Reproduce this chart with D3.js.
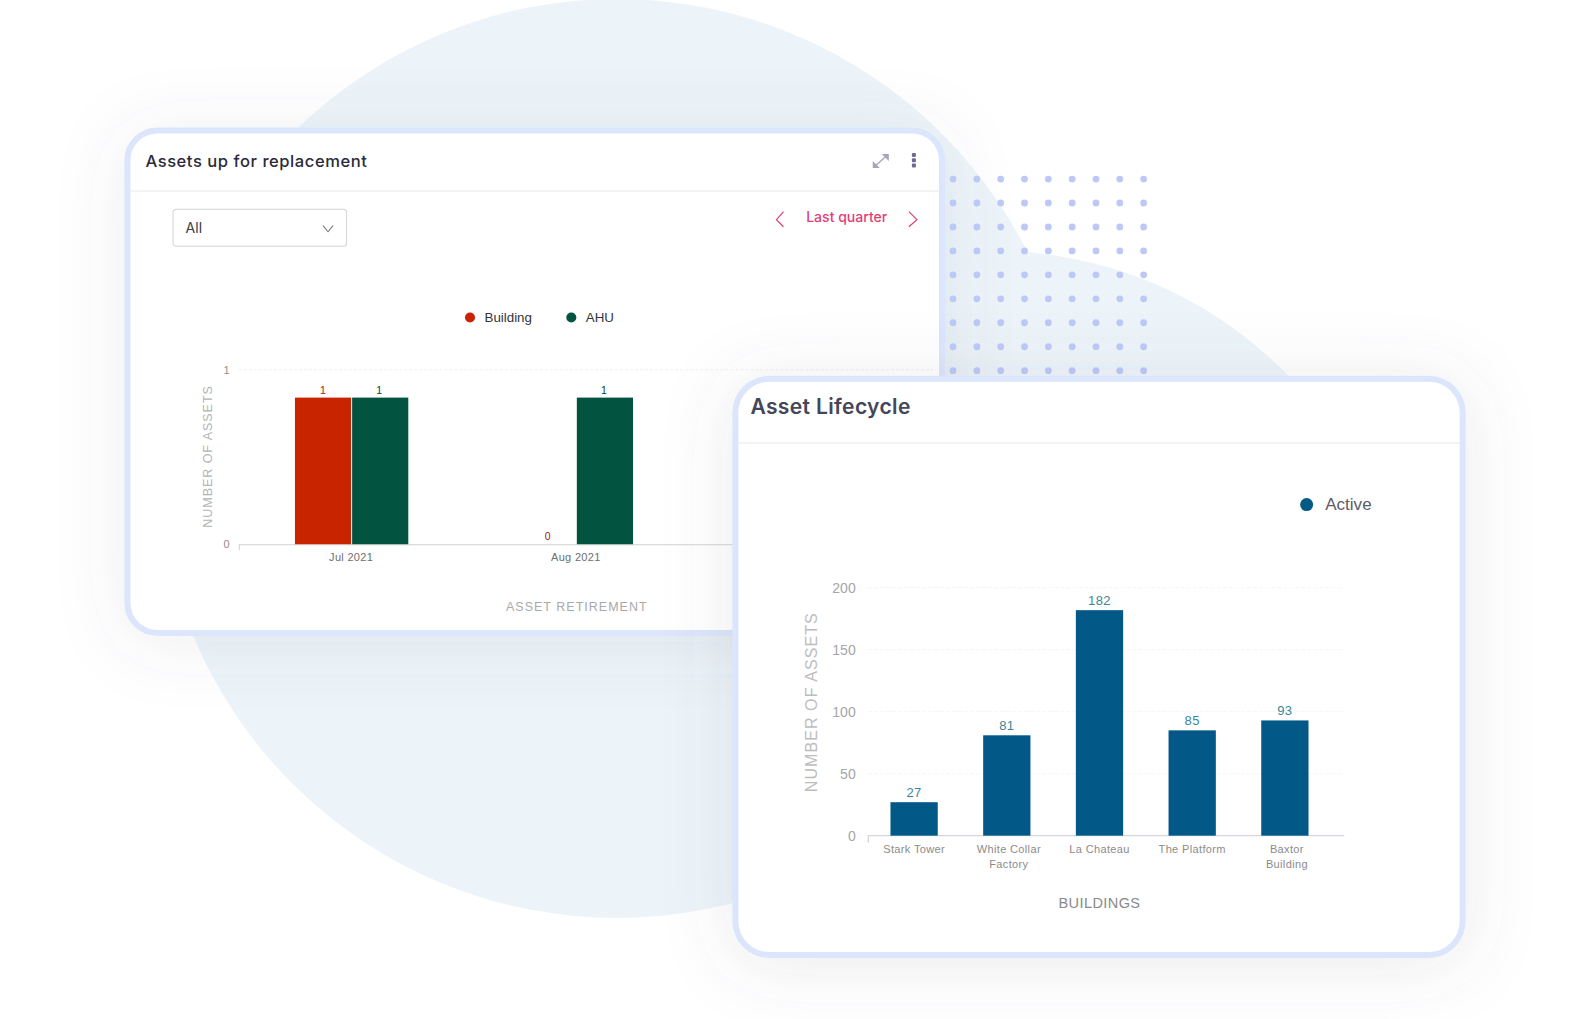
<!DOCTYPE html>
<html>
<head>
<meta charset="utf-8">
<title>Asset charts</title>
<script src="https://cdn.jsdelivr.net/npm/d3@7"></script>
<style>
  html, body { margin: 0; background: #fff; }
  svg { display: block; }
  text { font-family: "Liberation Sans", Arial, sans-serif; }
  .ui { font-family: Inter, "Noto Sans", sans-serif; }
</style>
</head>
<body>
<div id="chart"></div>
<script>
// --- Data : Assets up for replacement ---
const months = ["Jul 2021", "Aug 2021", "Sep 2021"];
const seriesNames = ["Building", "AHU"];
const seriesColors = ["#c92400", "#025441"];
const buildingCounts = [1, 0, 0];
const ahuCounts = [1, 1, 0];
const retirementTicks = [0, 1];
// the bars stop short of the "1" tick in the picture
const countToAxis = 0.84;

// --- Data : Asset Lifecycle ---
const buildings = ["Stark Tower", "White Collar Factory", "La Chateau", "The Platform", "Baxtor Building"];
const activeCounts = [27, 81, 182, 85, 93];
const lifecycleTicks = [0, 50, 100, 150, 200];

const width = 1573;
const height = 1019;

// layout below is measured on a 1568 wide copy of the design
const svg = d3.select("#chart").append("svg")
  .attr("width", width)
  .attr("height", height)
  .attr("viewBox", `0 0 1568 ${(height * 1568) / width}`);

const defs = svg.append("defs");

function shadow(id, blur, opacity) {
  const f = defs.append("filter").attr("id", id)
    .attr("x", "-30%").attr("y", "-30%").attr("width", "160%").attr("height", "160%");
  f.append("feDropShadow")
    .attr("dx", 0).attr("dy", 6)
    .attr("stdDeviation", blur)
    .attr("flood-color", "#5f6470")
    .attr("flood-opacity", opacity);
}
shadow("cardShadow1", 34, 0.1);
shadow("cardShadow2", 34, 0.13);

defs.append("clipPath").attr("id", "blobClip")
  .append("rect").attr("x", 0).attr("y", 0).attr("width", 1568).attr("height", 900);

// --- Background ---
svg.append("circle")
  .attr("cx", 615).attr("cy", 457).attr("r", 458)
  .attr("fill", "#ecf4fa");
svg.append("circle")
  .attr("cx", 990).attr("cy", 660).attr("r", 410)
  .attr("clip-path", "url(#blobClip)")
  .attr("fill", "#ecf4fa");

function card(x0, y0, x1, y1, radius, filterId) {
  return svg.append("rect")
    .attr("x", x0 + 3).attr("y", y0 + 3)
    .attr("width", x1 - x0 - 6).attr("height", y1 - y0 - 6)
    .attr("rx", radius).attr("ry", radius)
    .attr("fill", "#fff")
    .attr("stroke", "#dbe5fb")
    .attr("stroke-width", 6)
    .attr("filter", `url(#${filterId})`);
}

function hline(x0, x1, y, color) {
  svg.append("line")
    .attr("x1", x0).attr("x2", x1).attr("y1", y).attr("y2", y)
    .attr("stroke", color);
}

function styleAxisText(sel, size, color, spacing) {
  sel.selectAll("text")
    .style("font-family", '"Liberation Sans", Arial, sans-serif')
    .style("font-size", size + "px")
    .style("letter-spacing", spacing + "px")
    .attr("fill", color);
}

// --- Card 1 ---
card(124, 127, 942, 634, 30, "cardShadow1");
hline(130, 936, 190.5, "#e6e8ec");

svg.append("text").attr("class", "ui")
  .attr("x", 145).attr("y", 166)
  .style("font-size", "16.5px").style("font-weight", 500).style("letter-spacing", "0.55px")
  .attr("fill", "#2a2b3a")
  .text("Assets up for replacement");

// expand icon
const expand = svg.append("g").attr("fill", "#a5a4b8");
expand.append("path").attr("d", "M873 165 L883 156").attr("stroke", "#a5a4b8").attr("stroke-width", 1.3);
expand.append("path").attr("d", "M879 153.5 H886 V160.5 Z");
expand.append("path").attr("d", "M870 160.5 V167.5 H877 Z");

// kebab icon
svg.append("g").selectAll("rect")
  .data(d3.range(3))
  .join("rect")
  .attr("x", 909).attr("y", (d) => 152.5 + d * 5.2)
  .attr("width", 4).attr("height", 4).attr("rx", 1)
  .attr("fill", "#6f6a93");

// dropdown
svg.append("rect")
  .attr("x", 172.5).attr("y", 208.5).attr("width", 173).attr("height", 37).attr("rx", 3)
  .attr("fill", "#fff").attr("stroke", "#d2d3d6");
svg.append("text").attr("class", "ui")
  .attr("x", 185).attr("y", 232.5)
  .style("font-size", "14px").attr("fill", "#3a3a44")
  .text("All");
svg.append("path")
  .attr("d", "M322 225 L327 231 L332 225")
  .attr("fill", "none").attr("stroke", "#777").attr("stroke-width", 1.1);

// period selector
svg.append("text").attr("class", "ui")
  .attr("x", 844).attr("y", 221).attr("text-anchor", "middle")
  .style("font-size", "14px").style("font-weight", 500)
  .attr("fill", "#dd3f78")
  .text("Last quarter");
svg.append("path").attr("d", "M781 211 L774 219 L781 226")
  .attr("fill", "none").attr("stroke", "#dd3f78").attr("stroke-width", 1.2);
svg.append("path").attr("d", "M906 211 L914 219 L906 226")
  .attr("fill", "none").attr("stroke", "#dd3f78").attr("stroke-width", 1.2);

// legend
const legend1 = svg.append("g").selectAll("g")
  .data(seriesNames)
  .join("g")
  .attr("transform", (d, i) => `translate(${[468.5, 569.5][i]},316.5)`);
legend1.append("circle").attr("r", 5).attr("fill", (d, i) => seriesColors[i]);
legend1.append("text")
  .attr("x", 14.5).attr("y", 4.5)
  .style("font-size", "13.3px")
  .attr("fill", "#33343c")
  .text((d) => d);

// scales
const x0 = d3.scaleBand().domain(months).range([238, 910]);
const x1 = d3.scaleBand().domain(seriesNames)
  .range([0, x0.bandwidth()])
  .paddingInner(0)
  .paddingOuter(1);
const y0 = d3.scaleLinear().domain([0, 1]).range([542.5, 368.5]);

const grid1 = svg.append("g");
grid1.selectAll("line")
  .data(retirementTicks.filter((d) => d > 0))
  .join("line")
  .attr("x1", 238).attr("x2", 930)
  .attr("y1", (d) => y0(d)).attr("y2", (d) => y0(d))
  .attr("stroke", "#f0f0f0").attr("stroke-dasharray", "3 2");

const yAxis0 = svg.append("g")
  .attr("transform", "translate(230,0)")
  .call(d3.axisLeft(y0).tickValues(retirementTicks).tickFormat(d3.format("d")).tickSize(0).tickPadding(1));
yAxis0.select(".domain").remove();
styleAxisText(yAxis0, 11, "#8d8d8d", 0);

const xAxis0 = svg.append("g")
  .attr("transform", `translate(0,${y0(0)})`)
  .call(d3.axisBottom(x0).tickSize(0).tickSizeOuter(6).tickPadding(9));
xAxis0.select(".domain").attr("stroke", "#cfd1d4");
styleAxisText(xAxis0, 11, "#6e6e6e", 0.3);

const rows1 = [];
months.forEach((m, i) => {
  rows1.push({ month: m, series: seriesNames[0], color: seriesColors[0], count: buildingCounts[i] });
  rows1.push({ month: m, series: seriesNames[1], color: seriesColors[1], count: ahuCounts[i] });
});

svg.append("g").selectAll("rect")
  .data(rows1.filter((d) => d.count > 0))
  .join("rect")
  .attr("x", (d) => x0(d.month) + x1(d.series) + (d.series === "AHU" ? 1 : 0))
  .attr("y", (d) => y0(d.count * countToAxis))
  .attr("width", x1.bandwidth())
  .attr("height", (d) => y0(0) - y0(d.count * countToAxis))
  .attr("fill", (d) => d.color);

svg.append("g").selectAll("text")
  .data(rows1.filter((d) => d.month !== months[2]))
  .join("text")
  .attr("x", (d) => x0(d.month) + x1(d.series) + x1.bandwidth() / 2)
  .attr("y", (d) => y0(d.count * countToAxis) - 4)
  .attr("text-anchor", "middle")
  .style("font-size", "10.5px")
  .attr("fill", (d) => d3.color(d.color).darker(0.5))
  .text((d) => d.count);

svg.append("text")
  .attr("transform", "translate(211,455) rotate(-90)")
  .attr("text-anchor", "middle")
  .style("font-size", "12.5px").style("letter-spacing", "0.95px")
  .attr("fill", "#b4b4b4")
  .text("NUMBER OF ASSETS");

svg.append("text")
  .attr("x", 575).attr("y", 609).attr("text-anchor", "middle")
  .style("font-size", "12.5px").style("letter-spacing", "1px")
  .attr("fill", "#a9a9a9")
  .text("ASSET RETIREMENT");

// --- Dots ---
const dotX = d3.scalePoint().domain(d3.range(9)).range([950, 1140]);
const dotY = d3.scalePoint().domain(d3.range(9)).range([178.5, 369.5]);
svg.append("g").selectAll("circle")
  .data(d3.cross(d3.range(9), d3.range(9)))
  .join("circle")
  .attr("cx", (d) => dotX(d[0]))
  .attr("cy", (d) => dotY(d[1]))
  .attr("r", 3.4)
  .attr("fill", "#bcc8f6");

// --- Card 2 ---
card(730, 374.5, 1461, 955, 34, "cardShadow2");
hline(736, 1455, 441.5, "#e6e8ec");

svg.append("text").attr("class", "ui")
  .attr("x", 748).attr("y", 413)
  .style("font-size", "21px").style("font-weight", 600).style("letter-spacing", "0.35px")
  .attr("fill", "#44465a")
  .text("Asset Lifecycle");

svg.append("circle").attr("cx", 1302.5).attr("cy", 503).attr("r", 6.5).attr("fill", "#035a85");
svg.append("text")
  .attr("x", 1321).attr("y", 508)
  .style("font-size", "17px")
  .attr("fill", "#5c5d68")
  .text("Active");

const xb = d3.scaleBand().domain(buildings).range([865, 1327]).paddingInner(0.49).paddingOuter(0.245);
const yb = d3.scaleLinear().domain([0, 200]).range([833, 586]);

const grid2 = svg.append("g");
grid2.selectAll("line")
  .data(lifecycleTicks.filter((d) => d > 0))
  .join("line")
  .attr("x1", 865).attr("x2", 1340)
  .attr("y1", (d) => yb(d)).attr("y2", (d) => yb(d))
  .attr("stroke", "#f5f5f5").attr("stroke-dasharray", "4 2");

const yAxis1 = svg.append("g")
  .attr("transform", "translate(854,0)")
  .call(d3.axisLeft(yb).tickValues(lifecycleTicks).tickSize(0).tickPadding(1));
yAxis1.select(".domain").remove();
styleAxisText(yAxis1, 14, "#a6a6a6", 0);

const xAxis1 = svg.append("g")
  .attr("transform", `translate(0,${yb(0)})`)
  .call(d3.axisBottom(xb).tickSize(0).tickSizeOuter(0).tickPadding(9));
xAxis1.select(".domain").attr("stroke", "none");
styleAxisText(xAxis1, 11, "#8b8b8b", 0.35);

// axis line runs past the last band
svg.append("path")
  .attr("d", `M865.5 840 V${yb(0)} H1340`)
  .attr("fill", "none").attr("stroke", "#d3d6da").attr("stroke-width", 1.3);

// wrap long category names on two lines
xAxis1.selectAll(".tick text").each(function () {
  const t = d3.select(this);
  const words = t.text().split(" ");
  if (this.getComputedTextLength() < 74 || words.length < 2) return;
  const head = words.slice(0, -1).join(" ");
  const tail = words[words.length - 1];
  const tx = 2;
  const ty = t.attr("y");
  t.text(null);
  t.append("tspan").attr("x", tx).attr("y", ty).attr("dy", "0.71em").text(head);
  t.append("tspan").attr("x", tx).attr("y", ty).attr("dy", "2.07em").text(tail);
});

svg.append("g").selectAll("rect")
  .data(activeCounts)
  .join("rect")
  .attr("x", (d, i) => xb(buildings[i]))
  .attr("y", (d) => yb(d))
  .attr("width", xb.bandwidth())
  .attr("height", (d) => yb(0) - yb(d))
  .attr("fill", "#025887");

svg.append("g").selectAll("text")
  .data(activeCounts)
  .join("text")
  .attr("x", (d, i) => xb(buildings[i]) + xb.bandwidth() / 2)
  .attr("y", (d) => yb(d) - 5)
  .attr("text-anchor", "middle")
  .style("font-size", "13px").style("letter-spacing", "0.4px")
  .attr("fill", "#3b8797")
  .text((d) => d);

svg.append("text")
  .attr("transform", "translate(814,700) rotate(-90)")
  .attr("text-anchor", "middle")
  .style("font-size", "16px").style("letter-spacing", "1.05px")
  .attr("fill", "#bdbdbd")
  .text("NUMBER OF ASSETS");

svg.append("text")
  .attr("x", 1096).attr("y", 905).attr("text-anchor", "middle")
  .style("font-size", "14.5px").style("letter-spacing", "0.4px")
  .attr("fill", "#8a8a8a")
  .text("BUILDINGS");
</script>
</body>
</html>
